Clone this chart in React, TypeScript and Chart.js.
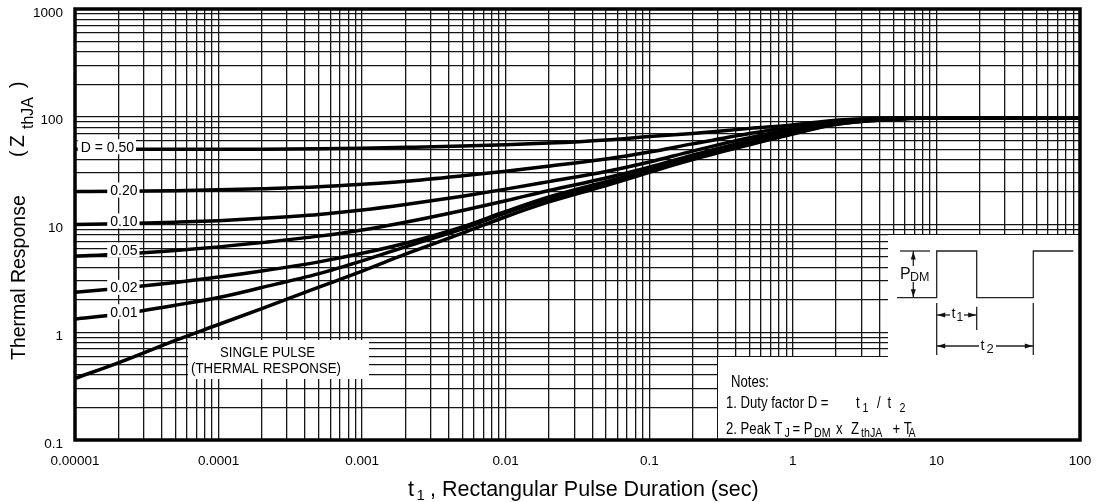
import React, { useEffect, useRef } from 'react';
import { Chart, registerables } from 'chart.js';

Chart.register(...registerables);

const FONT = '"Liberation Sans", Arial, Helvetica, sans-serif';

// ---- data ----
const pulseDuration = [1e-5, 2e-5, 5e-5, 1e-4, 2e-4, 5e-4, 1e-3, 2e-3, 5e-3, 1e-2, 2e-2, 5e-2, 0.1, 0.2, 0.5, 1, 2, 5, 10, 20, 50, 100];
const zthD050 = [50, 50, 50, 50, 50, 50.4, 51, 52, 53.5, 55, 57, 61, 65.5, 70, 78, 84, 93, 97, 98, 98, 98, 98];
const zthD020 = [20.2, 20.3, 20.6, 21.0, 21.5, 22.4, 23.6, 25.2, 28.3, 31.2, 34.8, 40.5, 47, 56, 70, 81, 92, 97, 98, 98, 98, 98];
const zthD010 = [10.0, 10.15, 10.5, 10.85, 11.4, 12.4, 13.6, 15.3, 18.3, 21.3, 25, 31, 38, 48, 64, 77, 89, 96, 98, 98, 98, 98];
const zthD005 = [5.1, 5.3, 5.75, 6.2, 6.8, 7.8, 8.9, 10.5, 13.5, 16.6, 20.7, 27, 34, 44, 60, 75, 88, 96, 98, 98, 98, 98];
const zthD002 = [2.35, 2.55, 2.9, 3.25, 3.7, 4.5, 5.4, 6.7, 9.5, 13.2, 18.0, 25, 32, 42, 58, 72, 87, 95.5, 98, 98, 98, 98];
const zthD001 = [1.33, 1.47, 1.78, 2.1, 2.6, 3.5, 4.6, 6.2, 9.1, 12.8, 17.3, 24.3, 31.5, 41, 56, 70, 85, 95, 98, 98, 98, 98];
const zthSingle = [0.373, 0.52, 0.84, 1.18, 1.66, 2.62, 3.7, 5.3, 8.3, 11.8, 16.2, 23, 30.5, 40, 55, 69, 85, 94.5, 97.5, 98, 98, 98];

const seriesNames = ['D = 0.50', 'D = 0.20', 'D = 0.10', 'D = 0.05', 'D = 0.02', 'D = 0.01', 'Single pulse'];
const seriesValues = [zthD050, zthD020, zthD010, zthD005, zthD002, zthD001, zthSingle];

const xTickLabels = ['0.00001', '0.0001', '0.001', '0.01', '0.1', '1', '10', '100'];
const yTickLabels = ['0.1', '1', '10', '100', '1000'];

const curveLabelText = ['D = 0.50', '0.20', '0.10', '0.05', '0.02', '0.01'];
const curveLabelT = [1.68e-5, 2.19e-5, 2.19e-5, 2.19e-5, 2.19e-5, 2.19e-5];
const curveLabelZ = [52.7, 20.9, 10.8, 5.8, 2.61, 1.55];

// ---- helpers ----
function logTicks(e0: number, e1: number) {
  const out: { value: number }[] = [];
  for (let e = e0; e < e1; e++) {
    for (let d = 1; d <= 9; d++) out.push({ value: parseFloat((d * Math.pow(10, e)).toPrecision(10)) });
  }
  out.push({ value: parseFloat(Math.pow(10, e1).toPrecision(10)) });
  return out;
}

function tickText(v: number, labels: string[], e0: number) {
  const l = Math.log10(v);
  const r = Math.round(l);
  if (Math.abs(l - r) < 1e-7) return labels[r - e0] ?? '';
  return '';
}

type Run = [string, number, number, number];
function drawRuns(ctx: CanvasRenderingContext2D, runs: Run[], sx = 1) {
  for (const [t, x, y, size] of runs) {
    ctx.save();
    ctx.translate(x, y);
    ctx.scale(sx, 1);
    ctx.font = `${size}px ${FONT}`;
    ctx.textAlign = 'left';
    ctx.textBaseline = 'alphabetic';
    ctx.fillText(t, 0, 0);
    ctx.restore();
  }
}

function arrowHead(ctx: CanvasRenderingContext2D, x: number, y: number, dir: string, len = 8, half = 2.5) {
  ctx.beginPath();
  ctx.moveTo(x, y);
  if (dir === 'left') { ctx.lineTo(x + len, y - half); ctx.lineTo(x + len, y + half); }
  if (dir === 'right') { ctx.lineTo(x - len, y - half); ctx.lineTo(x - len, y + half); }
  if (dir === 'up') { ctx.lineTo(x - half, y + len); ctx.lineTo(x + half, y + len); }
  if (dir === 'down') { ctx.lineTo(x - half, y - len); ctx.lineTo(x + half, y - len); }
  ctx.closePath();
  ctx.fill();
}

function seg(ctx: CanvasRenderingContext2D, pts: number[][]) {
  ctx.beginPath();
  ctx.moveTo(pts[0][0], pts[0][1]);
  for (let i = 1; i < pts.length; i++) ctx.lineTo(pts[i][0], pts[i][1]);
  ctx.stroke();
}

const decorations = {
  id: 'decorations',
  afterDatasetsDraw(chart: any) {
    const { ctx, chartArea: ca } = chart;
    const xs = chart.scales.x;
    const ys = chart.scales.y;
    ctx.save();
    // white panels that hide the grid
    ctx.fillStyle = '#fff';
    ctx.fillRect(888, 235, ca.right - 888, ca.bottom - 235);
    ctx.fillRect(718, 357, ca.right - 718, ca.bottom - 357);
    ctx.fillRect(188, 340, 181, 39);

    // curve labels
    ctx.font = `14px ${FONT}`;
    ctx.textBaseline = 'alphabetic';
    ctx.textAlign = 'center';
    curveLabelText.forEach((txt, i) => {
      const cx = xs.getPixelForValue(curveLabelT[i]);
      const cy = ys.getPixelForValue(curveLabelZ[i]);
      const w = ctx.measureText(txt).width;
      ctx.fillStyle = '#fff';
      ctx.fillRect(cx - w / 2 - 3, cy - 7.5, w + 5, 15);
      ctx.fillStyle = '#000';
      ctx.fillText(txt, cx, cy + 5);
    });

    // single pulse label
    ctx.fillStyle = '#000';
    ctx.save();
    ctx.translate(267.5, 357);
    ctx.scale(0.94, 1);
    ctx.font = `14px ${FONT}`;
    ctx.textAlign = 'center';
    ctx.fillText('SINGLE PULSE', 0, 0);
    ctx.restore();
    ctx.save();
    ctx.translate(266, 372.5);
    ctx.scale(0.95, 1);
    ctx.font = `14px ${FONT}`;
    ctx.textAlign = 'center';
    ctx.fillText('(THERMAL RESPONSE)', 0, 0);
    ctx.restore();

    // notes
    ctx.fillStyle = '#000';
    drawRuns(ctx, [
      ['Notes:', 731, 386.5, 16],
      ['1. Duty factor D =', 726, 408, 16],
      ['t', 856, 408, 16], ['1', 862.5, 411.5, 13], ['/', 877, 408, 16], ['t', 887.5, 408, 16], ['2', 899.5, 412, 13],
      ['2. Peak T', 726, 434, 16], ['J', 784.5, 437, 13], ['= P', 792.5, 434, 16], ['DM', 814, 437, 13],
      ['x', 836, 434, 16], ['Z', 851, 434, 16], ['thJA', 861, 437, 13], ['+ T', 892.5, 434, 16], ['A', 908.5, 437, 13],
    ], 0.82);

    // pulse diagram
    ctx.strokeStyle = '#222';
    ctx.fillStyle = '#111';
    ctx.lineWidth = 1.3;
    const top = 251, base = 297.7;
    const r1 = 936.7, f1 = 976.7, r2 = 1033.3;
    seg(ctx, [[897, base], [r1, base], [r1, top], [f1, top], [f1, base], [r2, base], [r2, top], [1073.3, top]]);
    seg(ctx, [[900, top], [930, top]]);
    // P_DM arrow
    seg(ctx, [[913.3, top], [913.3, 266]]);
    seg(ctx, [[913.3, 282], [913.3, base]]);
    arrowHead(ctx, 913.3, top + 0.5, 'up');
    arrowHead(ctx, 913.3, base - 0.5, 'down');
    drawRuns(ctx, [['P', 900, 278.5, 16], ['DM', 910, 281, 12.5]]);
    // t1 dimension
    seg(ctx, [[r1, 303], [r1, 355]]);
    seg(ctx, [[f1, 306.7], [f1, 330]]);
    seg(ctx, [[r2, 303], [r2, 355]]);
    seg(ctx, [[r1, 315], [950, 315]]);
    seg(ctx, [[964, 315], [f1, 315]]);
    arrowHead(ctx, r1 + 0.5, 315, 'left');
    arrowHead(ctx, f1 - 0.5, 315, 'right');
    drawRuns(ctx, [['t', 951.5, 318, 14.5], ['1', 956.5, 321, 12]]);
    // t2 dimension
    seg(ctx, [[r1, 346], [979, 346]]);
    seg(ctx, [[996, 346], [r2, 346]]);
    arrowHead(ctx, r1 + 0.5, 346, 'left');
    arrowHead(ctx, r2 - 0.5, 346, 'right');
    drawRuns(ctx, [['t', 980.5, 350, 14.5], ['2', 986.5, 353, 13]]);

    ctx.restore();
  },
  afterDraw(chart: any) {
    const { ctx, chartArea: ca } = chart;
    ctx.save();
    // frame
    ctx.strokeStyle = '#000';
    ctx.lineWidth = 3.5;
    ctx.strokeRect(ca.left, ca.top, ca.right - ca.left, ca.bottom - ca.top);

    ctx.fillStyle = '#000';
    // x-axis title
    drawRuns(ctx, [
      ['t', 408, 496, 21.5],
      ['1', 416.5, 499.5, 15],
      [', Rectangular Pulse Duration (sec)', 430, 496, 21.5],
    ]);
    // y-axis title (rotated)
    ctx.save();
    ctx.rotate(-Math.PI / 2);
    drawRuns(ctx, [
      ['Thermal Response', -360, 25, 19.5],
      ['(', -157, 23.5, 19.5],
      ['Z', -147, 23.5, 19.5],
      ['thJA', -129, 33, 16],
      [')', -88, 23.5, 19.5],
    ]);
    ctx.restore();
    ctx.restore();
  },
};

export default function App() {
  const canvasRef = useRef<HTMLCanvasElement | null>(null);

  useEffect(() => {
    const canvas = canvasRef.current;
    if (!canvas) return;
    const datasets = seriesValues.map((vals, i) => ({
      label: seriesNames[i],
      data: pulseDuration.map((t, j) => ({ x: t, y: vals[j] })),
      borderColor: '#000',
      backgroundColor: '#000',
      borderWidth: 3.5,
      pointRadius: 0,
      fill: false,
      cubicInterpolationMode: 'monotone' as const,
    }));

    const zeroPad = (s: any) => {
      s.paddingTop = 0;
      s.paddingBottom = 0;
      s.paddingLeft = 0;
      s.paddingRight = 0;
    };

    const chart = new Chart(canvas, {
      type: 'line',
      data: { datasets },
      plugins: [decorations],
      options: {
        animation: false,
        responsive: false,
        devicePixelRatio: 1,
        layout: { padding: { top: 9, right: 23, left: 0, bottom: 0 } },
        plugins: { legend: { display: false }, tooltip: { enabled: false }, title: { display: false } },
        scales: {
          x: {
            type: 'logarithmic',
            min: 1e-5,
            max: 100,
            afterBuildTicks: (s: any) => { s.ticks = logTicks(-5, 2); },
            afterFit: (s: any) => { s.height = 62; zeroPad(s); },
            grid: { color: '#151515', lineWidth: 1.3, drawTicks: false },
            border: { display: false },
            ticks: {
              autoSkip: false,
              maxRotation: 0,
              minRotation: 0,
              padding: 13,
              color: '#000',
              font: { family: FONT, size: 13.5 },
              callback: (v: any) => tickText(Number(v), xTickLabels, -5),
            },
          },
          y: {
            type: 'logarithmic',
            min: 0.1,
            max: 1000,
            afterBuildTicks: (s: any) => { s.ticks = logTicks(-1, 3); },
            afterFit: (s: any) => { s.width = 75; zeroPad(s); },
            grid: { color: '#151515', lineWidth: 1.3, drawTicks: false },
            border: { display: false },
            ticks: {
              autoSkip: false,
              padding: 12,
              labelOffset: 4,
              color: '#000',
              font: { family: FONT, size: 13.5 },
              callback: (v: any) => tickText(Number(v), yTickLabels, -1),
            },
          },
        },
      } as any,
    });
    return () => chart.destroy();
  }, []);

  return (
    <div style={{ position: 'fixed', left: 0, top: 0, width: 1103, height: 502, background: '#fff' }}>
      <canvas ref={canvasRef} width={1103} height={502} style={{ display: 'block', width: 1103, height: 502 }} />
    </div>
  );
}
